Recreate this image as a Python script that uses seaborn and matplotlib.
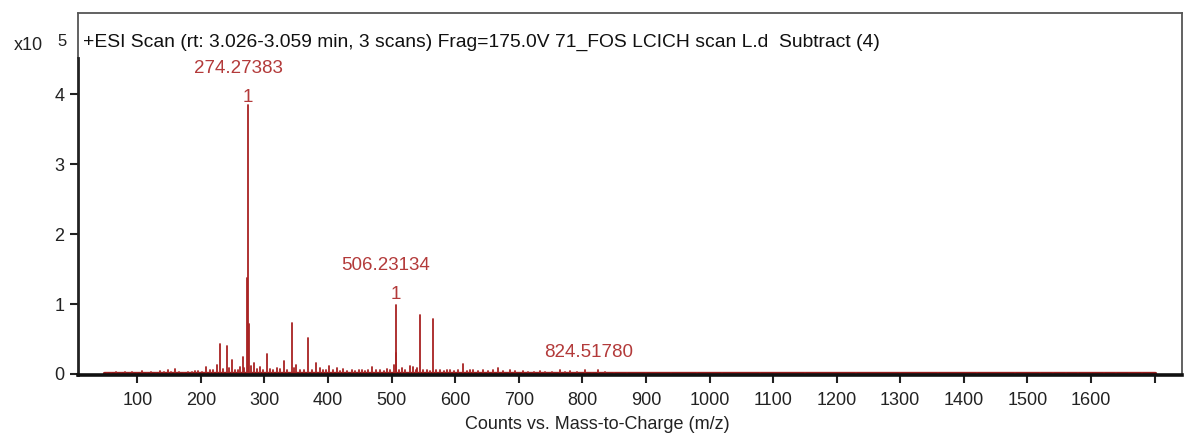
import numpy as np
import pandas as pd
import matplotlib
matplotlib.use("Agg")
import matplotlib.pyplot as plt
import seaborn as sns

# ---------------- data (intensity in units of 10^5 counts) ----------------
major_mz = [230.1, 240.6, 248.5, 265.5, 272.9, 274.27383, 275.2, 304.5, 343.3,
            368.5, 506.23134, 507.2, 545.4, 564.6, 611.8, 824.5178]
major_int = [0.43, 0.40, 0.20, 0.24, 1.37, 3.85, 0.72, 0.29, 0.73,
             0.52, 0.98, 0.30, 0.84, 0.79, 0.14, 0.05]

minor_mz = [52, 58, 66, 74, 81, 88, 92, 99, 107, 115, 122, 129, 136, 142, 148, 153,
            159, 166, 173, 180, 186, 191, 195, 201, 208, 214, 219, 225, 235, 245,
            253, 258, 262, 268, 279, 284, 288, 293, 298, 308, 314, 319, 324, 330,
            336, 347, 350, 356, 362, 374, 381, 387, 392, 397, 402, 408, 414, 419,
            424, 430, 437, 443, 448, 453, 458, 463, 469, 475, 482, 488, 493, 498,
            503, 512, 516, 521, 529, 533, 538, 540, 550, 555, 560, 570, 576, 582,
            587, 592, 598, 605, 618, 624, 628, 636, 644, 652, 660, 668, 675, 686,
            694, 707, 715, 724, 733, 742, 752, 765, 772, 780, 792, 804, 815, 835,
            850, 870, 900, 940, 980, 1020, 1080, 1150, 1230, 1300, 1360, 1420,
            1480, 1520, 1540, 1560, 1580, 1600, 1620, 1640, 1660, 1680]
minor_int = [0.02, 0.015, 0.03, 0.02, 0.025, 0.02, 0.035, 0.02, 0.04, 0.02, 0.025,
             0.02, 0.045, 0.03, 0.05, 0.03, 0.075, 0.025, 0.02, 0.03, 0.025, 0.04,
             0.045, 0.035, 0.10, 0.05, 0.06, 0.13, 0.07, 0.09, 0.06, 0.05, 0.10,
             0.08, 0.12, 0.15, 0.07, 0.10, 0.06, 0.07, 0.06, 0.08, 0.07, 0.18, 0.06,
             0.08, 0.13, 0.05, 0.06, 0.05, 0.15, 0.09, 0.05, 0.06, 0.11, 0.06, 0.08,
             0.04, 0.07, 0.04, 0.05, 0.04, 0.05, 0.06, 0.04, 0.05, 0.10, 0.05, 0.06,
             0.04, 0.07, 0.05, 0.13, 0.06, 0.09, 0.05, 0.12, 0.10, 0.06, 0.09, 0.05,
             0.06, 0.04, 0.05, 0.06, 0.04, 0.05, 0.05, 0.04, 0.05, 0.04, 0.05, 0.06,
             0.04, 0.05, 0.04, 0.05, 0.08, 0.04, 0.05, 0.04, 0.04, 0.03, 0.03, 0.04,
             0.03, 0.03, 0.06, 0.03, 0.04, 0.03, 0.05, 0.02, 0.03, 0.02, 0.02,
             0.015, 0.015, 0.015, 0.015, 0.015, 0.015, 0.015, 0.015, 0.015, 0.015,
             0.02, 0.02, 0.02, 0.02, 0.02, 0.02, 0.02, 0.02, 0.02, 0.02]

scan_range = [47, 1700]
baseline_level = 0.02

label_mz = [274.27383, 506.23134, 824.5178]
label_text = ["274.27383", "506.23134", "824.51780"]
label_int = [3.80, 0.98, 0.05]
label_charge = ["1", "1", ""]

x_ticks = list(range(100, 1800, 100))
x_ticklabels = [str(v) for v in range(100, 1700, 100)] + [""]
y_ticks = [0, 1, 2, 3, 4]

title = ("+ESI Scan (rt: 3.026-3.059 min, 3 scans) Frag=175.0V 71_FOS LCICH "
         "scan L.d  Subtract (4)")
xlabel = "Counts vs. Mass-to-Charge (m/z)"

# ---------------- build stick table ----------------
all_mz = list(minor_mz) + list(major_mz)
all_int = list(minor_int) + list(major_int)
rows = []
for i, (m, h) in enumerate(zip(all_mz, all_int)):
    rows.append((m, 0.0, i))
    rows.append((m, h, i))
sticks = pd.DataFrame(rows, columns=["mz", "intensity", "peak"])
base = pd.DataFrame({"mz": scan_range, "intensity": [baseline_level] * 2})

# ---------------- style ----------------
sns.set_style("ticks")
plt.rcParams["font.family"] = ["Liberation Sans", "DejaVu Sans"]

line_color = "#a82222"
text_color = "#b33a3a"
axis_color = "#222222"

fig = plt.figure(figsize=(11.84, 4.44), dpi=100)
ax = fig.add_axes([78.3 / 1184, 1 - 375 / 444, (1181.7 - 78.3) / 1184, (375 - 13) / 444])

sns.lineplot(data=base, x="mz", y="intensity", ax=ax, color="#9a1f1f",
             linewidth=2.4, estimator=None)
sns.lineplot(data=sticks, x="mz", y="intensity", units="peak", estimator=None,
             ax=ax, color=line_color, linewidth=1.3, legend=False)

ax.set_xlim(7.2, 1742.7)
ax.set_ylim(-0.015, 5.165)
ax.set_xticks(x_ticks)
ax.set_xticklabels(x_ticklabels)
ax.set_yticks(y_ticks)
ax.set_xlabel("")
ax.set_ylabel("")
ax.tick_params(axis="both", direction="out", length=6, width=1.5,
               colors=axis_color, labelsize=13)
ax.tick_params(axis="x", pad=6)
ax.tick_params(axis="y", pad=4)

for side in ["top", "right"]:
    ax.spines[side].set_color("#555555")
    ax.spines[side].set_linewidth(1.3)
ax.spines["left"].set_color(axis_color)
ax.spines["left"].set_linewidth(2.0)
ax.spines["left"].set_bounds(-0.015, 4.52)
ax.plot([0, 0], [(4.52 + 0.015) / 5.18, 1], transform=ax.transAxes, clip_on=False,
        color="#555555", linewidth=1.3)
ax.spines["bottom"].set_color("#111111")
ax.spines["bottom"].set_linewidth(2.6)

# annotations
for m, t, h, c in zip(label_mz, label_text, label_int, label_charge):
    if c:
        ax.text(m, h + 0.03, c, color=text_color, fontsize=13.5, ha="center", va="bottom")
        ax.text(m - 15, h + 0.45, t, color=text_color, fontsize=13.5, ha="center", va="bottom")
    else:
        ax.text(m - 15, h + 0.14, t, color=text_color, fontsize=13.5, ha="center", va="bottom")

ax.text(0.004, 0.92, title, transform=ax.transAxes, fontsize=13.9, color="#111111",
        ha="left", va="center")

fig.text(28 / 1184, 1 - 45 / 444, "x10", fontsize=13, color=axis_color, ha="center", va="center")
fig.text(62 / 1184, 1 - 42 / 444, "5", fontsize=12, color=axis_color, ha="center", va="center")
fig.text(597 / 1184, 1 - 424 / 444, xlabel, fontsize=13, color=axis_color, ha="center", va="center")

fig.savefig("out.png", dpi=100)
